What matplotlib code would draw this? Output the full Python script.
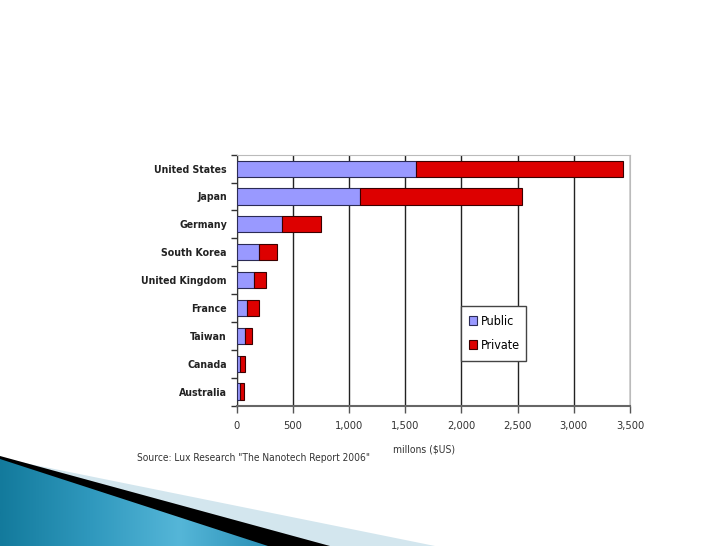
import numpy as np
import matplotlib.pyplot as plt
from matplotlib.colors import LinearSegmentedColormap
from matplotlib.patches import Polygon

# Nanotech spending by country, millions $US
countries = ['United States', 'Japan', 'Germany', 'South Korea', 'United Kingdom',
             'France', 'Taiwan', 'Canada', 'Australia']
public = [1600, 1100, 400, 195, 157, 95, 75, 30, 27]
private = [1840, 1440, 350, 168, 100, 104, 65, 42, 38]
xticks = [0, 500, 1000, 1500, 2000, 2500, 3000, 3500]
xtick_labels = ['0', '500', '1,000', '1,500', '2,000', '2,500', '3,000', '3,500']

W, H = 728, 546
FONT = dict(family='DejaVu Sans', stretch='condensed')

fig = plt.figure(figsize=(W / 100, H / 100), dpi=100)
fig.patch.set_facecolor('white')

# background swoosh in the lower-left corner (pixel coordinates)
bg = fig.add_axes([0, 0, 1, 1], zorder=0)
light = Polygon([(0, 458), (0, 546), (435, 546)], closed=True,
                facecolor='#d3e6ee', edgecolor='none', zorder=1)
black = Polygon([(0, 456), (0, 546), (330, 546)], closed=True,
                facecolor='black', edgecolor='none', zorder=2)
blue = Polygon([(0, 459), (0, 546), (268, 546)], closed=True,
               facecolor='none', edgecolor='none', zorder=3)
bg.add_patch(light)
bg.add_patch(black)
bg.add_patch(blue)
grad = np.linspace(0, 1, 256)[None, :]
cmap = LinearSegmentedColormap.from_list('sw', ['#137a9c', '#2f98bd', '#55b6d8', '#2a90b6'])
img = bg.imshow(grad, extent=[0, 270, 546, 455], cmap=cmap, aspect='auto', zorder=4)
img.set_clip_path(blue)
bg.set_xlim(0, W)
bg.set_ylim(H, 0)
bg.axis('off')

# chart
ax = fig.add_axes([236.7 / W, 1 - 405.5 / H, 393.3 / W, 250.8 / H], zorder=1)
y = np.arange(len(countries))
ax.barh(y, public, height=0.58, color='#9999ff', edgecolor='#2b2b55',
        linewidth=0.8, label='Public', zorder=3)
ax.barh(y, private, left=public, height=0.58, color='#dd0000', edgecolor='#3a0000',
        linewidth=0.8, label='Private', zorder=3)

ax.set_xlim(0, 3500)
ax.set_ylim(len(countries) - 0.5, -0.5)
ax.set_xticks(xticks)
ax.set_xticklabels(xtick_labels, fontsize=8, color='#333333', **FONT)
ax.tick_params(axis='x', length=5, width=1, color='#555555', pad=6)
ax.set_yticks(y)
ax.set_yticklabels(countries, fontsize=7.6, fontweight='bold', color='#222222', **FONT)
ax.set_yticks(np.arange(len(countries) + 1) - 0.5, minor=True)
ax.tick_params(axis='y', which='major', length=0, pad=7)
ax.tick_params(axis='y', which='minor', length=4, width=1, color='#333333')
ax.xaxis.grid(True, color='#222222', linewidth=1)
ax.set_axisbelow(True)
for s in ['top', 'right']:
    ax.spines[s].set_color('#bbbbbb')
ax.spines['bottom'].set_color('#666666')
ax.spines['bottom'].set_linewidth(1.5)
ax.spines['left'].set_color('#333333')

leg = ax.legend(loc='lower left', bbox_to_anchor=(0.5695, 0.1786, 0.166, 0.205),
                mode='expand', borderaxespad=0, handlelength=0.6, handleheight=0.8,
                handletextpad=0.3, labelspacing=0.9, borderpad=0.7,
                fancybox=False, framealpha=1,
                prop={'family': 'DejaVu Sans', 'stretch': 'condensed', 'size': 9})
leg.get_frame().set_edgecolor('#444444')
leg.get_frame().set_linewidth(1)

fig.text(424 / W, 1 - 449 / H, 'millons ($US)', ha='center', va='center',
         fontsize=7.5, color='#333333', **FONT)
fig.text(137 / W, 1 - 458 / H, 'Source: Lux Research "The Nanotech Report 2006"',
         ha='left', va='center', fontsize=7.3, color='#333333', **FONT)

fig.savefig('out.png', dpi=100)
